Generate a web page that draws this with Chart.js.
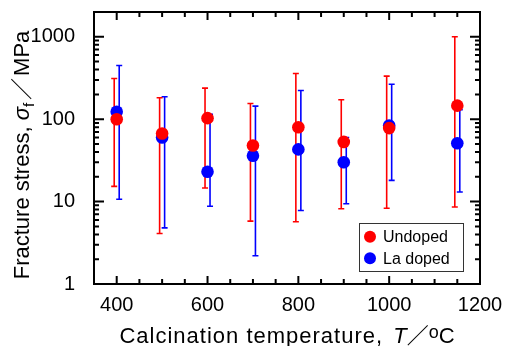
<!DOCTYPE html>
<html><head><meta charset="utf-8">
<script src="https://cdn.jsdelivr.net/npm/chart.js@4.4.1/dist/chart.umd.min.js"></script>
<style>html,body{margin:0;padding:0;background:#fff}#wrap{width:505px;height:346px}</style>
</head><body><div id="wrap"><canvas id="c" width="505" height="346"></canvas></div>
<script>
const temperatures = [400, 500, 600, 700, 800, 900, 1000, 1150];
const undopedStress = [100, 67, 103, 48, 80, 53, 78, 146];
const undopedLower = [15.3, 4.1, 14.6, 5.8, 5.7, 8.2, 8.3, 8.6];
const undopedUpper = [312, 182, 238, 155, 359, 172, 333, 1000];
const laStress = [123, 60, 23, 36, 43, 30, 84, 51];
const laLower = [10.7, 4.8, 8.8, 2.2, 7.8, 9.4, 18.1, 13.1];
const laUpper = [449, 187, 115, 144, 223, 60, 266, 130];
const xTickValues = [400, 600, 800, 1000, 1200];
const yTickValues = [1, 10, 100, 1000];
const seriesNames = ['Undoped', 'La doped'];
const seriesColors = ['#ff0000', '#0000ff'];

const FONT = "'Liberation Sans', Arial, 'Noto Sans CJK JP', sans-serif";

const errorBars = {
  id: 'errorBars',
  beforeDatasetsDraw(chart) {
    const { ctx, scales: { x, y } } = chart;
    ctx.save();
    ctx.lineWidth = 1.6;
    for (let d = chart.data.datasets.length - 1; d >= 0; d--) {
      const ds = chart.data.datasets[d];
      ctx.strokeStyle = ds.backgroundColor;
      ds.data.forEach((p, i) => {
        const px = x.getPixelForValue(p.x) + ds.barOffset;
        const top = y.getPixelForValue(ds.hi[i]);
        const bot = y.getPixelForValue(ds.lo[i]);
        ctx.beginPath();
        ctx.moveTo(px, top); ctx.lineTo(px, bot);
        ctx.moveTo(px - 3, top); ctx.lineTo(px + 3, top);
        ctx.moveTo(px - 3, bot); ctx.lineTo(px + 3, bot);
        ctx.stroke();
      });
    }
    ctx.restore();
  }
};

const frame = {
  id: 'frame',
  afterDatasetsDraw(chart) {
    const { ctx, chartArea: a, scales: { x, y } } = chart;
    ctx.save();
    ctx.strokeStyle = '#000';
    ctx.lineWidth = 2;
    ctx.beginPath();
    for (let v = 400; v < 1200; v += 50) {
      const px = x.getPixelForValue(v);
      const len = xTickValues.includes(v) ? 8 : 5;
      ctx.moveTo(px, a.bottom); ctx.lineTo(px, a.bottom - len);
      ctx.moveTo(px, a.top); ctx.lineTo(px, a.top + len);
    }
    for (let dec = 1; dec <= 1000; dec *= 10) {
      for (let m = 1; m <= 9; m++) {
        const v = dec * m;
        if (v <= 1 || v >= 2000) continue;
        const py = y.getPixelForValue(v);
        const len = m === 1 ? 10 : 5;
        ctx.moveTo(a.left, py); ctx.lineTo(a.left + len, py);
        ctx.moveTo(a.right, py); ctx.lineTo(a.right - len, py);
      }
    }
    ctx.stroke();
    ctx.strokeRect(a.left, a.top, a.right - a.left, a.bottom - a.top);
    ctx.restore();
  }
};

const legendBox = {
  id: 'legendBox',
  afterDraw(chart) {
    const { ctx, chartArea: a } = chart;
    const left = a.right - 121, top = a.bottom - 61, w = 104, h = 48;
    ctx.save();
    ctx.fillStyle = '#fff';
    ctx.fillRect(left, top, w, h);
    ctx.strokeStyle = '#333';
    ctx.lineWidth = 1;
    ctx.strokeRect(Math.round(left) + 0.5, Math.round(top) + 0.5, w, h);
    ctx.font = '16px ' + FONT;
    ctx.textBaseline = 'middle';
    ctx.textAlign = 'left';
    seriesNames.forEach((name, i) => {
      const cy = top + 13.7 + i * 21.5;
      ctx.fillStyle = seriesColors[i];
      ctx.beginPath(); ctx.arc(left + 11, cy, 6, 0, Math.PI * 2); ctx.fill();
      ctx.fillStyle = '#000';
      ctx.fillText(name, left + 24, cy + 1);
    });
    ctx.restore();
  }
};

function drawPieces(ctx, pieces, cx, baseY) {
  const widths = [];
  let total = 0;
  pieces.forEach(p => {
    ctx.font = p.font; ctx.letterSpacing = p.ls || '0px';
    const w = ctx.measureText(p.text).width;
    widths.push(w); total += w + (p.gap || 0);
  });
  let xx = cx - total / 2;
  pieces.forEach((p, i) => {
    ctx.font = p.font; ctx.letterSpacing = p.ls || '0px';
    ctx.fillText(p.text, xx, baseY + (p.dy || 0));
    xx += widths[i] + (p.gap || 0);
  });
  ctx.letterSpacing = '0px';
}

const titles = {
  id: 'titles',
  afterDraw(chart) {
    const { ctx, chartArea: a } = chart;
    ctx.save();
    ctx.fillStyle = '#000';
    ctx.textAlign = 'left';
    ctx.textBaseline = 'alphabetic';
    const N = '22px ' + FONT, I = 'italic 22px ' + FONT, J = "22px 'Noto Sans CJK JP', sans-serif";
    drawPieces(ctx, [
      { text: 'Calcination temperature,', font: N, ls: '1px' },
      { text: ' ', font: N, gap: 4 },
      { text: 'T', font: I },
      { text: '／', font: J },
      { text: 'o', font: '18px ' + FONT, dy: -5 },
      { text: 'C', font: N }
    ], (a.left + a.right) / 2, 343);
    ctx.translate(29, 155);
    ctx.rotate(-Math.PI / 2);
    drawPieces(ctx, [
      { text: 'Fracture stress, ', font: N },
      { text: 'σ', font: I },
      { text: 'f', font: '15px ' + FONT, dy: 5, gap: 3 },
      { text: '／', font: J, gap: 2 },
      { text: 'MPa', font: N }
    ], 0, 0);
    ctx.restore();
  }
};

new Chart(document.getElementById('c').getContext('2d'), {
  type: 'scatter',
  data: {
    datasets: [
      { label: seriesNames[0], data: temperatures.map((t, i) => ({ x: t, y: undopedStress[i] })),
        backgroundColor: seriesColors[0], borderWidth: 0, pointRadius: 6.3,
        lo: undopedLower, hi: undopedUpper, barOffset: -2.5 },
      { label: seriesNames[1], data: temperatures.map((t, i) => ({ x: t, y: laStress[i] })),
        backgroundColor: seriesColors[1], borderWidth: 0, pointRadius: 6.3,
        lo: laLower, hi: laUpper, barOffset: 2.5 }
    ]
  },
  options: {
    responsive: false, animation: false, events: [], devicePixelRatio: 1,
    layout: { padding: { left: 0, right: 25, top: 12, bottom: 0 } },
    plugins: { legend: { display: false }, tooltip: { enabled: false } },
    scales: {
      x: {
        type: 'linear', min: 350, max: 1200,
        afterFit(s) { s.height = 62; s.paddingLeft = 0; s.paddingRight = 0; },
        afterBuildTicks(s) { s.ticks = xTickValues.map(v => ({ value: v })); },
        grid: { display: false }, border: { display: false },
        ticks: { font: { family: FONT, size: 20 }, color: '#000', padding: 1, maxRotation: 0, autoSkip: false, callback: v => String(v) }
      },
      y: {
        type: 'logarithmic', min: 1, max: 2000,
        afterFit(s) { s.width = 94; s.paddingTop = 0; s.paddingBottom = 0; },
        afterBuildTicks(s) { s.ticks = yTickValues.map(v => ({ value: v })); },
        grid: { display: false }, border: { display: false },
        ticks: { font: { family: FONT, size: 20 }, color: '#000', padding: 11, autoSkip: false, callback: v => String(v) }
      }
    }
  },
  plugins: [errorBars, frame, legendBox, titles]
});
</script>
</body></html>
